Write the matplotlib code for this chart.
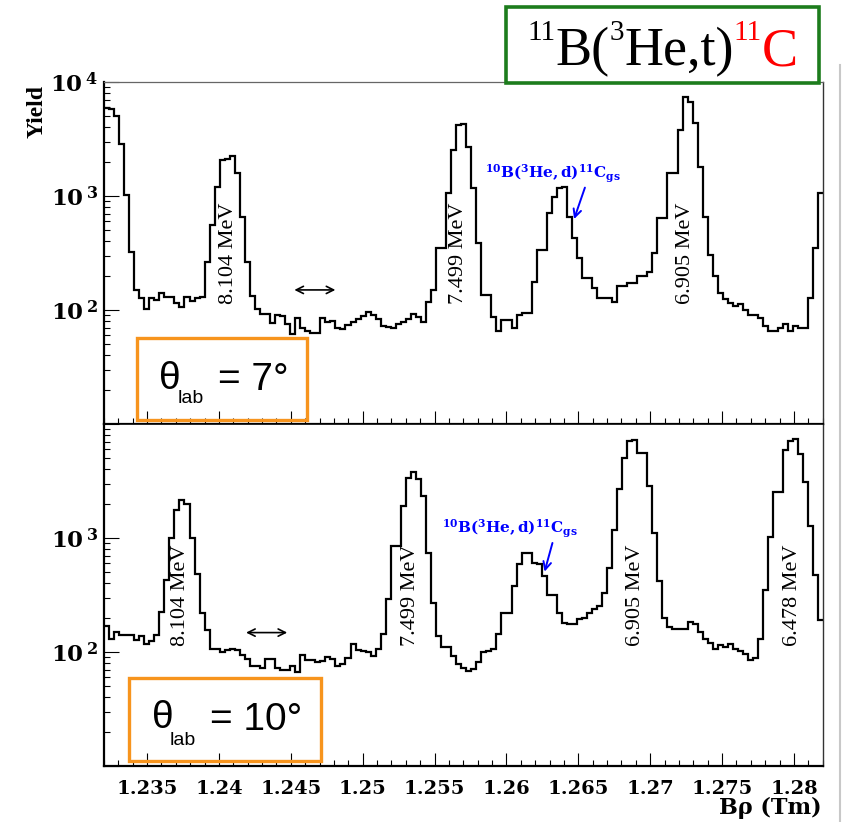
import numpy as np
import matplotlib
matplotlib.use('Agg')
import matplotlib.pyplot as plt
from matplotlib.ticker import FixedLocator, FuncFormatter, LogLocator, MultipleLocator, NullFormatter
from matplotlib.patches import Rectangle
from matplotlib.lines import Line2D

plt.rcParams['mathtext.fontset'] = 'custom'
plt.rcParams['mathtext.rm'] = 'Liberation Serif'
plt.rcParams['mathtext.it'] = 'Liberation Serif:italic'
plt.rcParams['mathtext.bf'] = 'DejaVu Serif:bold'

# ---------------- data ----------------
bin_lo = 1.232
bin_width = 0.00035

top_counts = [
    5880, 5800, 5000, 2860, 1020, 323, 150, 127, 103, 127,
    122, 141, 131, 131, 115, 106, 131, 121, 127, 131,
    263, 556, 1200, 2070, 2100, 2240, 1580, 660, 263, 132,
    103, 93, 93, 77, 90, 88, 75, 62, 85, 70,
    65, 63, 63, 85, 79, 80, 70, 68, 74, 79,
    83, 89, 96, 91, 83, 73, 71, 69, 75, 79,
    83, 93, 87, 79, 118, 150, 348, 348, 1060, 2530,
    4200, 4280, 2700, 1170, 385, 135, 135, 87, 65, 81,
    81, 70, 91, 94, 94, 177, 337, 337, 706, 985,
    1170, 1190, 660, 425, 283, 190, 190, 155, 127, 127,
    127, 117, 161, 161, 171, 171, 197, 197, 216, 314,
    637, 637, 1580, 1580, 3800, 7430, 6720, 4340, 1810, 660,
    305, 197, 140, 124, 116, 108, 112, 100, 91, 91,
    85, 72, 66, 66, 69, 75, 65, 72, 69, 69,
    127, 348, 1060,
]

bottom_counts = [
    170, 131, 150, 140, 140, 140, 127, 137, 118, 125,
    140, 224, 425, 990, 1750, 2140, 1980, 1010, 480, 220,
    155, 107, 107, 100, 105, 107, 104, 94, 86, 75,
    75, 72, 86, 86, 72, 69, 69, 75, 67, 94,
    85, 85, 82, 84, 90, 86, 75, 79, 89, 118,
    105, 102, 99, 93, 106, 143, 290, 850, 850, 1910,
    3390, 3830, 3270, 2330, 745, 271, 138, 111, 111, 93,
    78, 73, 68, 71, 82, 99, 102, 106, 143, 222,
    222, 379, 588, 745, 745, 608, 588, 464, 316, 316,
    222, 181, 175, 175, 195, 200, 222, 237, 253, 332,
    550, 1170, 2670, 5060, 7100, 7200, 5600, 5600, 2860, 1110,
    420, 200, 166, 158, 158, 158, 185, 175, 150, 129,
    121, 107, 115, 110, 117, 107, 103, 96, 85, 89,
    131, 348, 1020, 2530, 2530, 5880, 7100, 7440, 5500, 3100,
    1270, 470, 190,
]

x_ticks = [1.235, 1.24, 1.245, 1.25, 1.255, 1.26, 1.265, 1.27, 1.275, 1.28]
x_tick_labels = ['1.235', '1.24', '1.245', '1.25', '1.255', '1.26', '1.265', '1.27', '1.275', '1.28']

top_state_labels = ['8.104 MeV', '7.499 MeV', '6.905 MeV']
top_state_x = [1.24069, 1.25669, 1.27247]
bottom_state_labels = ['8.104 MeV', '7.499 MeV', '6.905 MeV', '6.478 MeV']
bottom_state_x = [1.23735, 1.25335, 1.26900, 1.27991]

# ---------------- figure ----------------
W, H = 842, 822
fig = plt.figure(figsize=(W / 100, H / 100), dpi=100)


def fx(p):
    return p / W


def fy(p):
    return 1 - p / H


ax_top = fig.add_axes([fx(104), fy(424), 718.7 / W, 342 / H])
ax_bot = fig.add_axes([fx(104), fy(766), 718.7 / W, 342 / H])

edges = bin_lo + bin_width * np.arange(len(top_counts) + 1)


def ylab(allowed):
    def f(v, pos):
        e = int(round(np.log10(v)))
        if e in allowed:
            return r'$\mathbf{10}^{\ \mathbf{%d}}$' % e
        return ''
    return f


for ax, counts, allowed in [(ax_top, top_counts, (2, 3, 4)), (ax_bot, bottom_counts, (2, 3))]:
    ax.stairs(counts, edges, color='black', lw=1.6, baseline=None)
    ax.set_yscale('log')
    ax.set_ylim(10, 1e4)
    ax.set_xlim(1.232, 1.282)
    ax.xaxis.set_major_locator(FixedLocator(x_ticks))
    ax.xaxis.set_minor_locator(MultipleLocator(0.001))
    ax.yaxis.set_major_locator(LogLocator(base=10, numticks=10))
    ax.yaxis.set_minor_locator(LogLocator(base=10, subs=np.arange(2, 10), numticks=10))
    ax.yaxis.set_major_formatter(FuncFormatter(ylab(allowed)))
    ax.yaxis.set_minor_formatter(NullFormatter())
    ax.tick_params(axis='both', which='both', direction='in', top=False, right=False,
                   width=0.8, color='black')
    ax.tick_params(axis='y', which='major', length=10.5, pad=4, labelsize=16.5)
    ax.tick_params(axis='y', which='minor', length=4.5)
    ax.tick_params(axis='x', which='major', length=9.5, pad=10)
    ax.tick_params(axis='x', which='minor', length=4.5)
    ax.spines['left'].set_linewidth(1.6)
    ax.spines['bottom'].set_linewidth(1.6)
    ax.spines['right'].set_linewidth(1.0)
    ax.spines['right'].set_color('#333333')
    ax.set_facecolor('white')

ax_top.spines['top'].set_linewidth(0.9)
ax_top.spines['top'].set_color('#666666')
ax_bot.spines['top'].set_linewidth(1.2)
ax_top.set_xticklabels([])
ax_bot.set_xticklabels(x_tick_labels, fontfamily='DejaVu Serif', fontweight='bold', fontsize=14)

# state labels
for lab, xv in zip(top_state_labels, top_state_x):
    ax_top.text(xv, 10 ** 2.5, lab, rotation=90, ha='center', va='center',
                family='Liberation Serif', fontsize=16, color='black')
for lab, xv in zip(bottom_state_labels, bottom_state_x):
    ax_bot.text(xv, 10 ** 2.5, lab, rotation=90, ha='center', va='center',
                family='Liberation Serif', fontsize=16, color='black')

# resolution double arrows
ax_top.annotate('', xy=(1.24829, 150), xytext=(1.24505, 150),
                arrowprops=dict(arrowstyle='<->', color='black', lw=1.2, mutation_scale=13))
ax_bot.annotate('', xy=(1.24494, 148), xytext=(1.24169, 148),
                arrowprops=dict(arrowstyle='<->', color='black', lw=1.2, mutation_scale=13))

# 10B(3He,d) contaminant labels
cont = r'$\mathbf{^{10}B(^{3}He,d)^{11}C_{gs}}$'
ax_top.text(1.25850, 1424, cont, color='blue', fontsize=11, ha='left', va='baseline')
ax_top.annotate('', xy=(1.26464, 595), xytext=(1.26552, 1249),
                arrowprops=dict(arrowstyle='->', color='blue', lw=1.4, mutation_scale=14))
ax_bot.text(1.25548, 1093, cont, color='blue', fontsize=11, ha='left', va='baseline')
ax_bot.annotate('', xy=(1.26260, 480), xytext=(1.26325, 955),
                arrowprops=dict(arrowstyle='->', color='blue', lw=1.4, mutation_scale=14))

# axis titles
fig.text(fx(37.5), fy(111.5), 'Yield', rotation=90, ha='center', va='center',
         family='Liberation Serif', fontweight='bold', fontsize=17)
fig.text(fx(821.5), fy(819), 'Bρ (Tm)', ha='right', va='bottom',
         family='DejaVu Serif', fontweight='bold', fontsize=16)

# orange angle boxes
orange = '#f7941d'
fig.patches.append(Rectangle((fx(136.7), fy(420)), 170 / W, 81.7 / H, transform=fig.transFigure,
                             fill=False, edgecolor=orange, lw=2.4, zorder=5))
fig.patches.append(Rectangle((fx(129.3), fy(760.7)), 191.4 / W, 82.4 / H, transform=fig.transFigure,
                             fill=False, edgecolor=orange, lw=2.4, zorder=5))
for (tx, tb), (lx, lb), (ex, eb), s in [((159.3, 389), (178, 403), (218, 389.5), '= 7°'),
                                        ((151.7, 728.5), (170, 744.5), (210, 729.5), '= 10°')]:
    fig.text(fx(tx), fy(tb), 'θ', family='Liberation Sans', fontsize=28, ha='left', va='baseline')
    fig.text(fx(lx), fy(lb), 'lab', family='Liberation Sans', fontsize=14, ha='left', va='baseline')
    fig.text(fx(ex), fy(eb), s, family='Liberation Sans', fontsize=28, ha='left', va='baseline')

# green reaction title box
fig.patches.append(Rectangle((fx(506), fy(83.3)), 313.3 / W, 76.6 / H, transform=fig.transFigure,
                             facecolor='white', edgecolor='#1c7c1c', lw=2.6, zorder=10))
fig.canvas.draw()
renderer = fig.canvas.get_renderer()
parts = [('11', 21, 'black', 40), ('B(', 39, 'black', 65), ('3', 21, 'black', 40),
         ('He,t)', 39, 'black', 65), ('11', 21, 'red', 40), ('C', 39, 'red', 65)]
xcur = 527.5
for s, size, col, base in parts:
    t = fig.text(fx(xcur), fy(base), s, family='Liberation Serif', fontsize=size, color=col,
                 ha='left', va='baseline', zorder=11)
    bb = t.get_window_extent(renderer)
    xcur += bb.width

# page edge line
fig.lines.append(Line2D([fx(840), fx(840)], [fy(65), 0], transform=fig.transFigure,
                        color='#c8c8c8', lw=1.5))

fig.savefig('out.png', dpi=100, facecolor='white')
